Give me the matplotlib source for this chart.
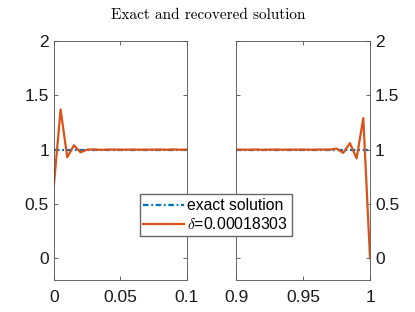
import matplotlib
matplotlib.use("Agg")
from matplotlib import pyplot as plt

# left window  0 .. 0.1
x_left = [0.0, 0.005, 0.01, 0.015, 0.02, 0.025, 0.03, 0.035, 0.04, 0.045, 0.05,
          0.055, 0.06, 0.065, 0.07, 0.075, 0.08, 0.085, 0.09, 0.095, 0.1]
y_left = [0.68, 1.37, 0.93, 1.04, 0.975, 1.0, 1.002, 0.998, 1.0, 1.001, 0.999,
          1.0, 1.001, 0.999, 1.0, 1.0, 1.001, 0.999, 1.002, 0.999, 1.0]
# right window  0.9 .. 1
x_right = [0.9, 0.905, 0.91, 0.915, 0.92, 0.925, 0.93, 0.935, 0.94, 0.945, 0.95,
           0.955, 0.96, 0.965, 0.97, 0.975, 0.98, 0.985, 0.99, 0.995, 1.0]
y_right = [1.0, 1.0, 0.999, 1.001, 0.998, 1.0, 1.001, 0.999, 1.0, 1.0, 1.001,
           0.999, 1.0, 1.001, 1.0, 1.01, 0.97, 1.06, 0.92, 1.29, 0.0]
exact_left = [1.0] * len(x_left)
exact_right = [1.0] * len(x_right)

delta_label = r"$\delta$=0.00018303"
blue = "#0072BD"
orange = "#D95319"

plt.rcParams["font.family"] = ["Liberation Sans", "DejaVu Sans"]
plt.rcParams["mathtext.fontset"] = "cm"

fig = plt.figure(figsize=(4.15, 3.12), dpi=100)
ax1 = fig.add_axes([0.130, 0.1026, 0.3205, 0.766])
ax2 = fig.add_axes([0.5687, 0.1026, 0.3229, 0.766])

for ax, xs, ys, ex in [(ax1, x_left, y_left, exact_left), (ax2, x_right, y_right, exact_right)]:
    ax.plot(xs, ex, color=blue, ls=(0, (2.5, 1.2, 0.8, 1.2)), lw=1.6, label="exact solution")
    ax.plot(xs, ys, color=orange, lw=1.6, label=delta_label)
    ax.set_ylim(-0.2, 2)
    ax.set_yticks([0, 0.5, 1, 1.5, 2])
    ax.set_yticklabels(["0", "0.5", "1", "1.5", "2"])
    for s in ax.spines.values():
        s.set_color("0.3")
        s.set_linewidth(0.6)
    ax.tick_params(direction="in", length=3, width=0.6, color="0.3",
                   labelsize=12.5, labelcolor="0.1", top=True, right=True)
    ax.tick_params(axis="x", pad=7)

ax1.set_xlim(0, 0.1)
ax1.set_xticks([0, 0.05, 0.1])
ax1.set_xticklabels(["0", "0.05", "0.1"])
ax2.set_xlim(0.9, 1.0)
ax2.set_xticks([0.9, 0.95, 1.0])
ax2.set_xticklabels(["0.9", "0.95", "1"])
ax2.tick_params(labelleft=False, labelright=True)

fig.text(0.502, 0.953, "Exact and recovered solution", ha="center", va="center",
         family="cmr10", fontsize=11)

h, l = ax1.get_legend_handles_labels()
fig.legend(h, l, loc="center", bbox_to_anchor=(0.52, 0.31), fontsize=11.3,
           frameon=True, fancybox=False, edgecolor="0.4", framealpha=1,
           handlelength=2.6, handletextpad=0.2, borderpad=0.25, labelspacing=0.2,
           borderaxespad=0)

fig.savefig("out.png", dpi=100)
